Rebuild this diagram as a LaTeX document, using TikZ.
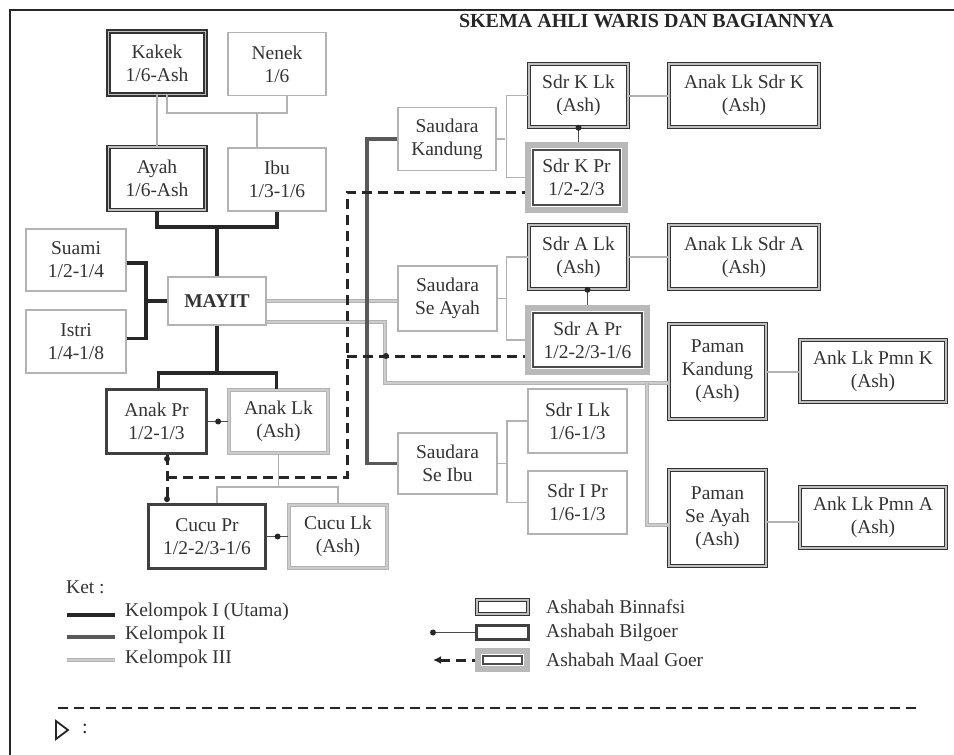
\documentclass[tikz,border=0pt]{standalone}
\usepackage{fontspec}
\setmainfont{Liberation Serif}
\usetikzlibrary{arrows.meta}
\tikzset{
  box/.style={rectangle,align=center,inner sep=1pt,text=black!80,
    font=\fontsize{19.5}{23}\selectfont},
  sz/.style 2 args={minimum width=#1pt,minimum height=#2pt},
  plain/.style={box,draw=gray!60,line width=1.8pt},
  binnafsi/.style={box,draw=black!80,line width=1.5pt,double=gray!50,double distance=1.4pt},
  bngrey/.style={box,draw=gray!60,line width=1.6pt,double=gray!40,double distance=1.6pt},
  bilghoir/.style={box,draw=black!75,line width=2.6pt},
  maalghoir/.style={box,draw=gray!55,line width=6pt},
  inner/.style={draw=black!70,line width=1.8pt},
  k1/.style={line width=3.5pt,black!85},
  k2/.style={line width=3.2pt,black!65},
  k3/.style={line width=1.4pt,draw=gray!60,double=gray!40,double distance=1.8pt},
  tie/.style={line width=1.5pt,gray!60},
  link/.style={line width=2pt,gray!60},
  bil/.style={line width=1.6pt,black!70},
  mg/.style={line width=3pt,black!85,dash pattern=on 10pt off 6pt},
  dot/.style={circle,fill=black!85,inner sep=0pt,minimum size=6pt},
  txt/.style={text=black!80,font=\fontsize{19.5}{23}\selectfont,inner sep=0pt},
}
\begin{document}
\begin{tikzpicture}[x=1pt,y=-1pt]
    \useasboundingbox (0,0) rectangle (954,755);
    \draw[line width=2.2pt,black!85] (954,10) -- (10,10) -- (10,755);
    \node[font=\bfseries\fontsize{20}{22}\selectfont,text=black!85] (title)
        at (646.5,21) {SKEMA AHLI WARIS DAN BAGIANNYA};

    \node[binnafsi,sz={97}{63}] (kakek) at (157,63) {Kakek\\1/6-Ash};
    \node[plain,sz={98}{63}] (nenek) at (277,64) {Nenek\\1/6};
    \node[binnafsi,sz={97}{63}] (ayah) at (157,178.5) {Ayah\\1/6-Ash};
    \node[plain,sz={98}{63}] (ibu) at (277,179.5) {Ibu\\1/3-1/6};
    \node[plain,sz={100}{62}] (suami) at (76,260) {Suami\\1/2-1/4};
    \node[plain,sz={100}{63}] (istri) at (76,341.5) {Istri\\1/4-1/8};
    \node[plain,sz={98}{48},font=\bfseries\fontsize{19.5}{23}\selectfont]
        (mayit) at (217,301) {MAYIT};
    \node[bilghoir,sz={100.5}{64.5}] (anakpr) at (156.5,421.5) {Anak Pr\\1/2-1/3};
    \node[bngrey,sz={99}{63}] (anaklk) at (278.5,421.5) {Anak Lk\\(Ash)};
    \node[bilghoir,sz={117.5}{64.5}] (cucupr) at (207,536.5) {Cucu Pr\\1/2-2/3-1/6};
    \node[bngrey,sz={98}{63}] (cuculk) at (338,536.5) {Cucu Lk\\(Ash)};

    \node[plain,sz={98}{63}] (sdrk) at (447,139) {Saudara\\Kandung};
    \node[plain,sz={99}{65}] (sdra) at (447.5,298.5) {Saudara\\Se Ayah};
    \node[plain,sz={99}{61}] (sdri) at (447.5,463.5) {Saudara\\Se Ibu};

    \node[binnafsi,sz={99}{63}] (sdrklk) at (578.5,95.5) {Sdr K Lk\\(Ash)};
    \node[maalghoir,sz={97}{65}] (sdrkpr) at (576.5,177.5) {Sdr K Pr\\1/2-2/3};
    \node[binnafsi,sz={99}{64}] (sdralk) at (578.5,257) {Sdr A Lk\\(Ash)};
    \node[maalghoir,sz={119}{64}] (sdrapr) at (587.5,340) {Sdr A Pr\\1/2-2/3-1/6};
    \node[plain,sz={99}{64}] (sdrilk) at (577.5,421) {Sdr I Lk\\1/6-1/3};
    \node[plain,sz={99}{63}] (sdripr) at (577.5,502.5) {Sdr I Pr\\1/6-1/3};

    \node[binnafsi,sz={150}{63}] (anaksdrk) at (744,95.5) {Anak Lk Sdr K\\(Ash)};
    \node[binnafsi,sz={150}{64}] (anaksdra) at (744,257) {Anak Lk Sdr A\\(Ash)};
    \node[binnafsi,sz={97}{95}] (pamank) at (717.5,371.5) {Paman\\Kandung\\(Ash)};
    \node[binnafsi,sz={97}{96}] (pamana) at (717.5,518) {Paman\\Se Ayah\\(Ash)};
    \node[binnafsi,sz={146}{62}] (anakpmnk) at (873,371) {Ank Lk Pmn K\\(Ash)};
    \node[binnafsi,sz={146}{61}] (anakpmna) at (873,517.5) {Ank Lk Pmn A\\(Ash)};

    \node[txt,anchor=west] (ket) at (66,587) {Ket :};
    \node[txt,anchor=west] (kel1) at (125,612) {Kelompok I (Utama)};
    \node[txt,anchor=west] (kel2) at (125,635) {Kelompok II};
    \node[txt,anchor=west] (kel3) at (125,659) {Kelompok III};
    \node[binnafsi,sz={51}{14}] (lg1) at (502.5,607) {};
    \node[bilghoir,sz={52.4}{14.4}] (lg2) at (502.5,632.5) {};
    \node[maalghoir,sz={49}{18}] (lg3) at (502.5,660) {};
    \node[txt,anchor=west] (lt1) at (546,607) {Ashabah Binnafsi};
    \node[txt,anchor=west] (lt2) at (546,633) {Ashabah Bilgoer};
    \node[txt,anchor=west] (lt3) at (546,660) {Ashabah Maal Goer};

    \foreach \n in {sdrkpr,sdrapr,lg3}
        {\draw[inner] ([shift={(7.8,7.8)}]\n.north west)
            rectangle ([shift={(-7.8,-7.8)}]\n.south east);}

    \coordinate (jN) at (257,113);
    \draw[tie] (kakek.south) -- (ayah.north);
    \draw[tie] ([xshift=10pt]kakek.south) |- (jN) -| ([xshift=10pt]nenek.south);
    \draw[tie] (jN) -- (jN |- ibu.north);

    \coordinate (jP) at (217,227);
    \draw[k1] (ayah.south) |- (jP) -| (ibu.south);
    \draw[k1] (jP) -- (mayit.north);
    \draw[k1] ([yshift=-3pt]suami.east) -- ++(19,0) |- ([yshift=3pt]istri.east);
    \draw[k1] (mayit.west) -- ++(-21,0);
    \coordinate (jA) at (217,373);
    \draw[k1] (mayit.south) -- (jA);
    \draw[k1] ([xshift=2pt]anakpr.north) |- (jA) -| ([xshift=-2pt]anaklk.north);

    \draw[bil] (anakpr.east) -- (anaklk.west) node[dot,midway] (d1) {};
    \draw[bil] (cucupr.east) -- (cuculk.west) node[dot,midway] (d2) {};
    \path (anaklk.south) ++(0,33) coordinate (jC);
    \draw[tie] (anaklk.south) -- (jC);
    \draw[tie] ([xshift=10pt]cucupr.north) |- (jC) -| (cuculk.north);

    \coordinate (pA) at (385,383);
    \coordinate (pB) at (647,383);
    \draw[k3] (mayit.east) -- (mayit.east -| sdra.west);
    \draw[k3] ([yshift=-21pt]mayit.east) -| (pA) -- (pA -| pamank.west);
    \draw[k3] (pB) |- ([yshift=-7pt]pamana.west);

    \coordinate (bB) at (367,463.5);
    \draw[k2] (sdrk.west) -| (bB) -- (sdri.west);

    \draw[mg] ([xshift=10.5pt]anakpr.south) -- ([xshift=-40pt]cucupr.north)
        node[dot,pos=0.08] (d3) {} node[dot,pos=0.92] (d4) {};
    \coordinate (mA) at (167,477);
    \coordinate (mC) at (347,192);
    \coordinate (mD) at (347,356);
    \draw[mg] (mA) -| (mC) -- (mC -| sdrkpr.west);
    \draw[mg] (mD) -- (mD -| sdrapr.west);
    \fill[black!85] (386,356) circle (3pt);

    \draw[bil] (sdrklk.south) -- (sdrklk.south |- sdrkpr.north) node[dot,pos=0] (d5) {};
    \draw[bil] (sdrapr.north |- sdralk.south) -- (sdrapr.north) node[dot,pos=0] (d6) {};

    \draw[tie] (sdrklk.west) -- ++(-22,0) |- (sdrkpr.west);
    \draw[tie] (sdrk.east) -- ++(8,0);
    \draw[tie] (sdralk.west) -- ++(-22,0) |- (sdrapr.west);
    \draw[tie] (sdra.east) -- ++(8,0);
    \draw[tie] (sdrilk.west) -- ++(-20,0) |- (sdripr.west);
    \draw[tie] (sdri.east) -- ++(9,0);

    \draw[link] (sdrklk.east) -- (anaksdrk.west);
    \draw[link] (sdralk.east) -- (anaksdra.west);
    \draw[link] (pamank.east) -- (pamank.east -| anakpmnk.west);
    \draw[link] ([yshift=-4pt]pamana.east) -- ([yshift=-4pt]pamana.east -| anakpmna.west);

    \draw[k1,line width=4pt] ([shift={(-10,3)}]kel1.west) -- ++(-48,0);
    \draw[k2,line width=3.6pt] ([shift={(-10,2)}]kel2.west) -- ++(-48,0);
    \draw[k3,line width=1.6pt,double distance=1.6pt] ([shift={(-10,1)}]kel3.west) -- ++(-48,0);
    \draw[bil] (lg2.west) -- ++(-42,0) node[dot,pos=1] (d7) {};
    \draw[mg,{Latex[length=8pt,width=8pt]}-]
        ([xshift=-42pt]lg3.west) -- (lg3.west);

    \draw[line width=2.2pt,black!85,dash pattern=on 10pt off 6pt] (58,708) -- (920,708);
    \draw[line width=1.8pt,black!85] (56,721) -- (68,730) -- (56,739) -- cycle;
    \node[font=\fontsize{20}{20}\selectfont,text=black!85] (colon) at (85,729) {:};
\end{tikzpicture}
\end{document}
